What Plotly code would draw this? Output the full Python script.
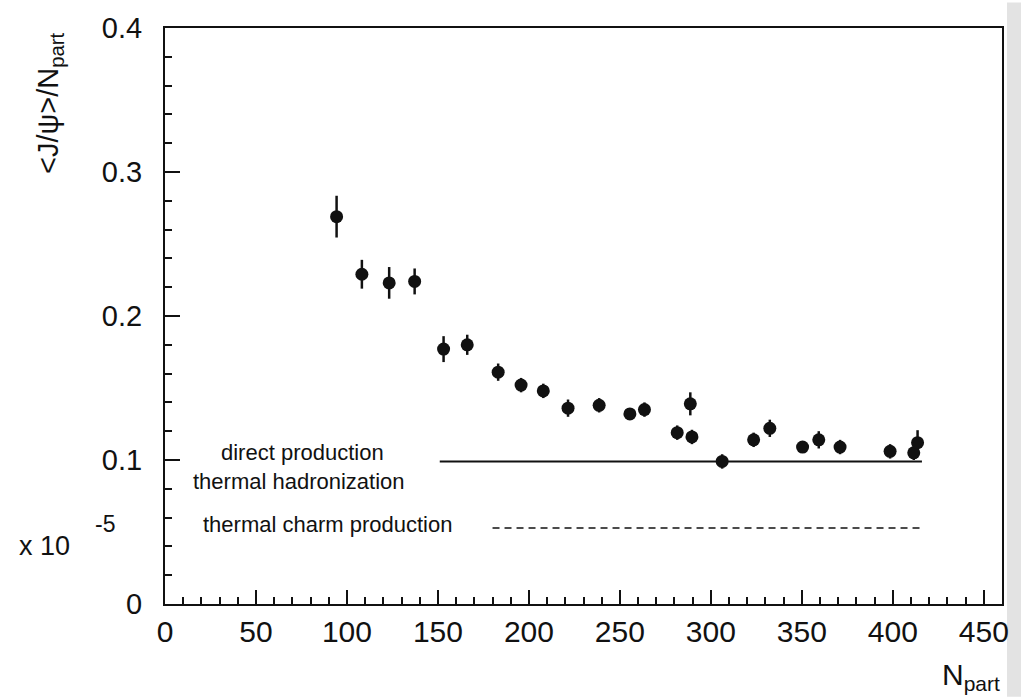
import plotly.graph_objects as go

# Data
npart = [94.3, 108.2, 123.2, 137.2, 153.1, 166.1, 183.1, 195.7, 207.9, 221.5,
         238.6, 255.5, 263.5, 281.5, 288.7, 289.6, 306.2, 323.5, 332.4, 350.4,
         359.3, 371.0, 398.5, 411.5, 413.6]
ratio = [0.269, 0.229, 0.223, 0.224, 0.177, 0.180, 0.161, 0.152, 0.148, 0.136,
         0.138, 0.132, 0.135, 0.119, 0.139, 0.116, 0.099, 0.114, 0.122, 0.109,
         0.114, 0.109, 0.106, 0.105, 0.112]
ratio_err = [0.0145, 0.010, 0.011, 0.009, 0.009, 0.007, 0.006, 0.005, 0.005, 0.006,
             0.005, 0.004, 0.005, 0.005, 0.008, 0.005, 0.005, 0.005, 0.006, 0.004,
             0.006, 0.005, 0.005, 0.005, 0.0087]

direct_x = [151, 416]
direct_y = [0.099, 0.099]
charm_x = [180, 415]
charm_y = [0.0527, 0.0527]

x_ticks = [0, 50, 100, 150, 200, 250, 300, 350, 400, 450]
y_ticks = [0, 0.1, 0.2, 0.3, 0.4]

FONT = "Liberation Sans, Arial, Helvetica, sans-serif"
INK = "#111111"

fig = go.Figure()

fig.add_trace(go.Scatter(
    x=direct_x, y=direct_y, mode="lines",
    line=dict(color=INK, width=2), showlegend=False, hoverinfo="skip"))
fig.add_trace(go.Scatter(
    x=charm_x, y=charm_y, mode="lines",
    line=dict(color=INK, width=1.5, dash="7px,5px"), showlegend=False, hoverinfo="skip"))

fig.add_trace(go.Scatter(
    x=npart, y=ratio, mode="markers",
    marker=dict(color=INK, size=13, symbol="circle"),
    error_y=dict(type="data", array=ratio_err, visible=True,
                 color=INK, thickness=2.5, width=0),
    showlegend=False))

axis_common = dict(
    showgrid=False, zeroline=False, showline=True, linecolor=INK, linewidth=2,
    mirror=True, ticks="inside", tickcolor=INK, tickwidth=2,
)

fig.update_xaxes(
    range=[0, 460], tickvals=x_ticks, ticktext=[str(v) for v in x_ticks],
    ticklen=14, tickfont=dict(family=FONT, size=30, color=INK),
    ticklabelstandoff=0,
    minor=dict(dtick=10, tick0=0, ticks="inside", ticklen=7, tickwidth=2, tickcolor=INK),
    **axis_common)
fig.update_yaxes(
    range=[0, 0.4], tickvals=y_ticks, ticktext=["0", "0.1", "0.2", "0.3", "0.4"],
    ticklen=15, tickfont=dict(family=FONT, size=29, color=INK),
    ticklabelstandoff=15,
    minor=dict(dtick=0.02, tick0=0, ticks="inside", ticklen=7, tickwidth=2, tickcolor=INK),
    **axis_common)

ann_font = dict(family=FONT, size=22, color=INK)
annotations = [
    dict(x=75.5, y=0.105, xref="x", yref="y", text="direct production",
         showarrow=False, font=ann_font, xanchor="center", yanchor="middle"),
    dict(x=73.6, y=0.085, xref="x", yref="y", text="thermal hadronization",
         showarrow=False, font=ann_font, xanchor="center", yanchor="middle"),
    dict(x=89.3, y=0.055, xref="x", yref="y", text="thermal charm production",
         showarrow=False, font=ann_font, xanchor="center", yanchor="middle"),
    # y-axis title
    dict(x=-115/837, y=1 - 77/584, xref="paper", yref="paper",
         xanchor="center", yanchor="middle",
         text="<J/ψ>/N<sub>part</sub>", textangle=-90, showarrow=False,
         font=dict(family=FONT, size=29, color=INK)),
    # multiplier
    dict(x=-148/837, y=(604 - 545) / 584, xref="paper", yref="paper",
         xanchor="left", yanchor="middle", text="x 10", showarrow=False,
         font=dict(family=FONT, size=27, color=INK)),
    dict(x=-72/837, y=(604 - 523) / 584, xref="paper", yref="paper",
         xanchor="left", yanchor="middle", text="-5", showarrow=False,
         font=dict(family=FONT, size=23, color=INK)),
    # x-axis title
    dict(x=1.0, y=-(678 - 604) / 584, xref="paper", yref="paper",
         xanchor="right", yanchor="middle", text="N<sub>part</sub>", showarrow=False,
         font=dict(family=FONT, size=30, color=INK)),
]

fig.update_layout(
    width=1021, height=698,
    margin=dict(l=165, r=19, t=20, b=94),
    paper_bgcolor="white", plot_bgcolor="white",
    annotations=annotations,
    shapes=[dict(type="rect", xref="paper", yref="paper",
                 x0=(1007 - 165) / 837, x1=(1021 - 165) / 837,
                 y0=-94 / 584, y1=(698 - 94) / 584 + 0.01,
                 fillcolor="#e3e3e3", line=dict(width=0), layer="below")],
    font=dict(family=FONT, color=INK),
)

fig.write_html("out.html")
